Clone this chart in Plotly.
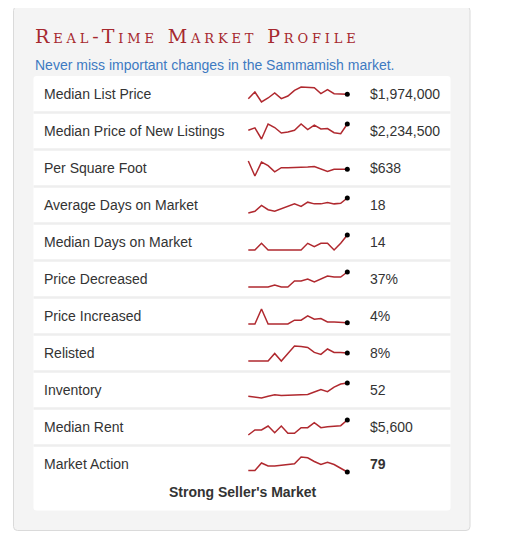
import plotly.graph_objects as go

W, H = 499, 531   # page body has an 8px margin inside the 507x539 window
OFF = 8

labels = ["Median List Price", "Median Price of New Listings", "Per Square Foot",
          "Average Days on Market", "Median Days on Market", "Price Decreased",
          "Price Increased", "Relisted", "Inventory", "Median Rent", "Market Action"]
shown = ["$1,974,000", "$2,234,500", "$638", "18", "14", "37%", "4%", "8%", "52", "$5,600", "79"]

# sparkline series, oldest to newest (16 weeks each)
list_price = [1922, 2002, 1882, 1930, 1990, 1922, 1954, 2022, 2062, 2058, 2054, 1982, 2030, 1982, 1974, 1974]
new_listings = [2126, 2168, 1976, 2234, 2174, 2078, 2096, 2126, 2234, 2138, 2216, 2150, 2156, 2084, 2066, 2234.5]
per_sqft = [674, 609, 669, 654, 627, 645, 645, 645, 647, 648, 650, 638, 629, 638, 638, 638]
avg_days = [6.5, 7.8, 12.3, 9, 7.8, 9.8, 11.5, 13.5, 11.5, 14.8, 13.5, 13.5, 14.5, 13.5, 14, 18]
median_days = [5, 5, 9, 5, 5, 5, 5, 5, 5, 9, 7, 9, 9, 5, 9, 14]
price_decreased = [22, 22, 22, 22, 24, 22, 22, 28, 28, 30, 27, 30, 33, 32, 32, 37]
price_increased = [3, 3, 14, 3, 3, 3, 3, 5.8, 5.8, 9, 6.5, 7, 4.5, 4.5, 4, 4]
relisted = [4, 4, 4, 4, 7.8, 4, 7.8, 11.5, 11.2, 10.8, 8.3, 7.3, 10, 8.3, 8.2, 8]
inventory = [33, 32, 30.5, 33, 35, 34, 34.5, 35, 35.5, 35.5, 39, 42.5, 39.5, 46, 50.5, 52]
median_rent = [5150, 5300, 5300, 5420, 5220, 5420, 5200, 5200, 5370, 5370, 5520, 5370, 5400, 5420, 5430, 5600]
market_action = [81, 81, 91, 87, 87, 88, 89, 90, 99, 98, 93, 89, 92, 89, 84, 79]

series = [list_price, new_listings, per_sqft, avg_days, median_days, price_decreased,
          price_increased, relisted, inventory, median_rent, market_action]

RED = "#b0292f"
TXT = "#333333"
FONT = "Liberation Sans, Arial, sans-serif"


def fx(p):
    return (p - OFF) / W


def fy(p):
    return 1 - (p - OFF) / H


def rounded(x0, y0, x1, y1, r):
    rx, ry = r / W, r / H
    a, b, c, d = fx(x0), fy(y1), fx(x1), fy(y0)
    return (f"M{a+rx},{b} L{c-rx},{b} Q{c},{b} {c},{b+ry} L{c},{d-ry} Q{c},{d} {c-rx},{d} "
            f"L{a+rx},{d} Q{a},{d} {a},{d-ry} L{a},{b+ry} Q{a},{b} {a+rx},{b} Z")


def note(text, x, y, size=14, color=TXT, anchor="left", family=FONT, **kw):
    return dict(text=text, x=fx(x), y=fy(y), xref="paper", yref="paper", xanchor=anchor,
                yanchor="middle", showarrow=False,
                font=dict(family=family, size=size, color=color, **kw))


fig = go.Figure()
shapes = [
    dict(type="path", xref="paper", yref="paper", path=rounded(13.5, 6.5, 470, 530.5, 4),
         fillcolor="#f4f4f4", line=dict(color="#dadada", width=1), layer="below"),
    dict(type="path", xref="paper", yref="paper", path=rounded(33.5, 76, 450.5, 510.5, 3),
         fillcolor="white", line=dict(width=0), layer="below"),
]
for k in range(len(labels) - 1):
    yy = fy(112.5 + 37 * k)
    shapes.append(dict(type="line", xref="paper", yref="paper", x0=fx(33.5), x1=fx(450.5),
                       y0=yy, y1=yy, line=dict(color="#eeeeee", width=2.5), layer="below"))

annotations = [
    note('<span style="letter-spacing:3.85px">Real-Time Market Profile</span>', 33, 36,
         size=19, color="#a6282e", family="DejaVu Serif", variant="small-caps"),
    note("Never miss important changes in the Sammamish market.", 32.5, 65, color="#3d7ac2"),
    note("<b>Strong Seller's Market</b>", 242.5, 492, anchor="center"),
]

layout_axes = {}
n_pts = 16
xpad = 4 * (n_pts - 1) / 99
for k, (lab, val, s) in enumerate(zip(labels, shown, series)):
    c = 94 + 37 * k
    annotations.append(note(lab, 42, c))
    txt = f"<b>{val}</b>" if lab == "Market Action" else val
    annotations.append(note(txt, 367.5, c))
    sfx = "" if k == 0 else str(k + 1)
    xs = list(range(len(s)))
    fig.add_trace(go.Scatter(x=xs, y=s, mode="lines", line=dict(color=RED, width=1.5),
                             xaxis="x" + sfx, yaxis="y" + sfx, hoverinfo="skip"))
    fig.add_trace(go.Scatter(x=[xs[-1]], y=[s[-1]], mode="markers",
                             marker=dict(color="black", size=5),
                             xaxis="x" + sfx, yaxis="y" + sfx, hoverinfo="skip"))
    mn, mx = min(s), max(s)
    ypad = (mx - mn) * 4 / 15
    layout_axes["xaxis" + sfx] = dict(domain=[fx(244.3), fx(351.3)], range=[-xpad, n_pts - 1 + xpad],
                                      visible=False, anchor="y" + sfx, fixedrange=True)
    layout_axes["yaxis" + sfx] = dict(domain=[fy(c + 12), fy(c - 11)], range=[mn - ypad, mx + ypad],
                                      visible=False, anchor="x" + sfx, fixedrange=True)

fig.update_layout(width=W, height=H, margin=dict(l=0, r=0, t=0, b=0),
                  paper_bgcolor="white", plot_bgcolor="rgba(0,0,0,0)", showlegend=False,
                  shapes=shapes, annotations=annotations, **layout_axes)
fig.write_html("out.html", config={"displayModeBar": False})
